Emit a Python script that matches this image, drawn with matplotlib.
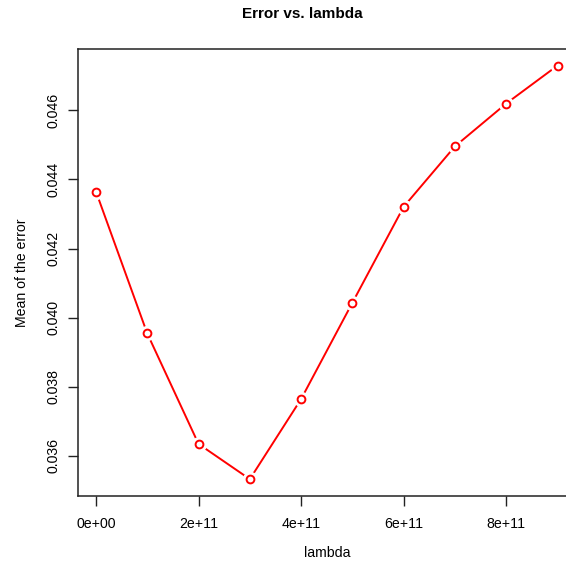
import matplotlib
matplotlib.use("Agg")
import matplotlib.pyplot as plt

plt.rcParams["font.family"] = ["Liberation Sans", "DejaVu Sans"]

lambdas = [0, 1e11, 2e11, 3e11, 4e11, 5e11, 6e11, 7e11, 8e11, 9e11]
mean_error = [0.04365, 0.03954, 0.03634, 0.03532, 0.03764,
              0.04043, 0.04321, 0.04496, 0.04620, 0.04730]
x_ticks = [0, 2e11, 4e11, 6e11, 8e11]
x_tick_labels = ["0e+00", "2e+11", "4e+11", "6e+11", "8e+11"]
y_ticks = [0.036, 0.038, 0.040, 0.042, 0.044, 0.046]
y_tick_labels = ["0.036", "0.038", "0.040", "0.042", "0.044", "0.046"]

W, H = 566, 565
fig = plt.figure(figsize=(W / 100, H / 100), dpi=100)
ax = fig.add_axes([77.5 / W, 1 - 495.7 / H, (576 - 77.5) / W, (495.7 - 49) / H])

# R-style type="b": line broken around each open circle
ax.plot(lambdas, mean_error, color="red", lw=1.4, zorder=2)
ax.plot(lambdas, mean_error, "o", ls="none", ms=10, mfc="white", mec="white", zorder=3)
ax.plot(lambdas, mean_error, "o", ls="none", ms=5.6, mfc="white", mec="red", mew=1.4, zorder=4)

# 4% padding like R
xmin, xmax = min(lambdas), max(lambdas)
ymin, ymax = min(mean_error), max(mean_error)
px = (xmax - xmin) * 0.04
py = (ymax - ymin) * 0.04
ax.set_xlim(xmin - px, xmax + px)
ax.set_ylim(ymin - py, ymax + py)

ax.set_xticks(x_ticks)
ax.set_xticklabels(x_tick_labels)
ax.set_yticks(y_ticks)
ax.set_yticklabels(y_tick_labels, rotation=90, va="center")
ax.tick_params(direction="out", length=7, width=1, labelsize=10.2, color="#222222", pad=8)
ax.tick_params(axis="y", pad=5)
for s in ax.spines.values():
    s.set_linewidth(1.1)
    s.set_color("#222222")

ax.set_xlabel("lambda", fontsize=10.2, labelpad=11)
ax.set_ylabel("Mean of the error", fontsize=10.2, labelpad=13)
fig.text(302 / W, 1 - 14 / H, "Error vs. lambda",
         ha="center", va="center", fontsize=11, fontweight="bold")

fig.savefig("out.png", dpi=100)
